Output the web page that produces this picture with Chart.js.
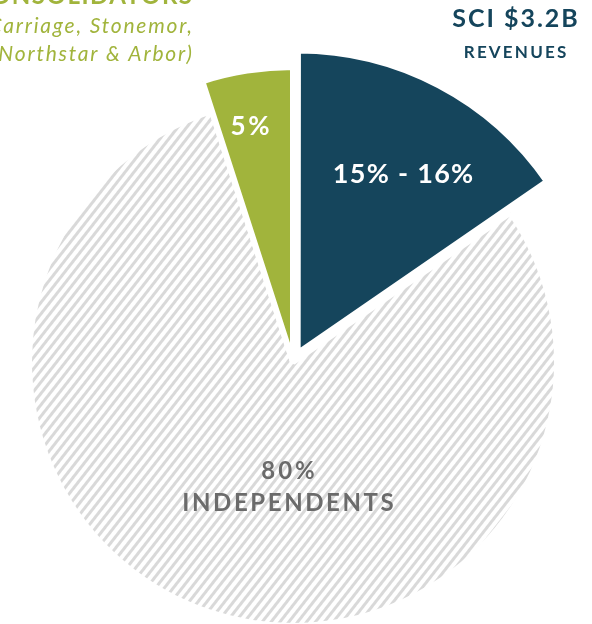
<!DOCTYPE html>
<html>
<head>
<meta charset="utf-8">
<script src="https://cdn.jsdelivr.net/npm/chart.js@4"></script>
<style>
  html, body { margin: 0; padding: 0; background: #fff; }
  #wrap { width: 592px; height: 624px; position: relative; }
</style>
</head>
<body>
<div id="wrap"><canvas id="pie"></canvas></div>
<script>
const categories = ["SCI", "Independents", "Consolidators"];
const shares = [15.5, 80, 5];
const sliceLabels = ["15% - 16%", "80%", "5%"];

const DARK = "#15455c";
const GREEN = "#a1b43c";
const GREY_TEXT = "#6b6b6b";

// outer radius per slice, in px (the big hatched slice is smaller than the others)
const sliceRadius = [301, 264, 295];
const sliceOffset = [40, 0, 0];

document.addEventListener("DOMContentLoaded", () => {
    const canvas = document.getElementById("pie");
    const ctx = canvas.getContext("2d");

    const makeHatch = () => {
        const tile = document.createElement("canvas");
        tile.width = 7;
        tile.height = 7;
        const t = tile.getContext("2d");
        t.fillStyle = "#ffffff";
        t.fillRect(0, 0, 7, 7);
        t.fillStyle = "#d9d9d9";
        t.fillRect(0, 0, 3, 7);
        const p = ctx.createPattern(tile, "repeat");
        p.setTransform(new DOMMatrix().rotate(38));
        return p;
    };

    const text = (c, str, x, y, font, spacing) => {
        c.font = font;
        c.letterSpacing = spacing + "px";
        // letterSpacing adds room after the last glyph too
        const shift = c.textAlign === "center" ? spacing / 2 : (c.textAlign === "right" ? spacing : 0);
        c.fillText(str, x + shift, y);
    };

    const drawTexts = (chart) => {
        const c = chart.ctx;
        c.save();
        c.textBaseline = "alphabetic";

        // top-left annotation (cropped in the original)
        c.textAlign = "right";
        c.fillStyle = GREEN;
        text(c, "CONSOLIDATORS", 192, 4, "bold 24px Lato", 1.5);
        text(c, "(Carriage, Stonemor,", 192, 33, "italic 21px Lato", 1.8);
        text(c, "(Northstar & Arbor)", 192, 61, "italic 21px Lato", 1.8);

        // top-right annotation
        c.textAlign = "center";
        c.fillStyle = DARK;
        text(c, "SCI $3.2B", 515, 27, "bold 25px Lato", 2);
        text(c, "REVENUES", 515, 58, "bold 17px Lato", 2.2);

        // slice labels
        c.textBaseline = "middle";
        c.fillStyle = "#ffffff";
        text(c, sliceLabels[0], 403, 174, "bold 27px Lato", 1.3);
        text(c, sliceLabels[2], 250, 127, "bold 26px Lato", 2.5);
        c.fillStyle = GREY_TEXT;
        text(c, sliceLabels[1], 288, 471, "bold 24px Lato", 3);
        text(c, categories[1].toUpperCase(), 288, 503, "bold 24px Lato", 2.6);
        c.restore();
    };

    new Chart(ctx, {
        type: "pie",
        data: {
            labels: categories,
            datasets: [{
                data: shares,
                backgroundColor: [DARK, makeHatch(), GREEN],
                borderColor: "#ffffff",
                borderWidth: 6,
                borderJoinStyle: "bevel",
                offset: sliceOffset,
                hoverOffset: 0,
            }],
        },
        options: {
            responsive: true,
            maintainAspectRatio: false,
            animation: false,
            events: [],
            layout: {
                padding: { left: 0, right: 6, top: 100, bottom: 0 },
            },
            plugins: {
                legend: { display: false },
                tooltip: { enabled: false },
            },
        },
        plugins: [{
            id: "sliceRadius",
            afterDatasetUpdate: (chart, args) => {
                args.meta.data.forEach((arc, i) => {
                    arc.outerRadius = sliceRadius[i];
                });
            },
        }, {
            id: "texts",
            afterDraw: (chart) => drawTexts(chart),
        }],
    });
});
</script>
</body>
</html>
